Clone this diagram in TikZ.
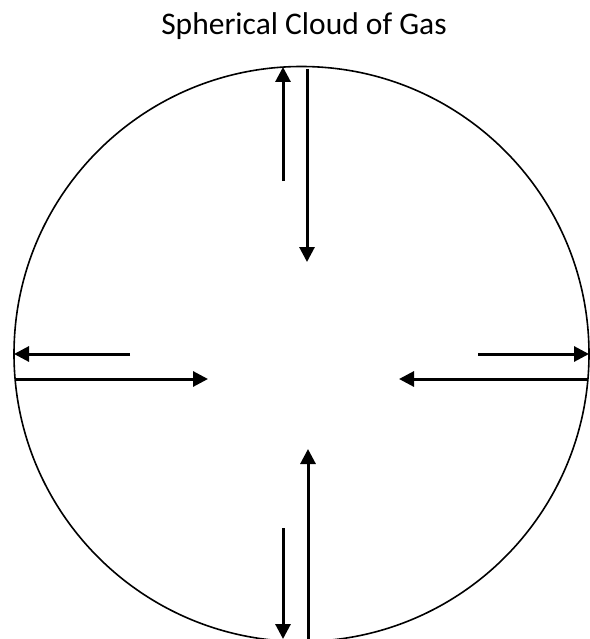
\documentclass[tikz,border=0pt]{standalone}
\usepackage{fontspec}
\setmainfont{Carlito}
\usepackage{tikz}
\usetikzlibrary{arrows.meta}

\tikzset{
  flow/.style={line width=3pt, -{Triangle[length=15pt,width=15pt]}},
  cloud/.style={line width=1.6pt}
}

\begin{document}
\begin{tikzpicture}[x=1pt, y=-1pt]
        \useasboundingbox (0,0) rectangle (589,639);

        % Titulo
        \node[font=\fontsize{31.5}{36}\selectfont, anchor=base] (title) at (304,35) {Spherical Cloud of Gas};

        % Nube
        \draw[cloud] (301.5,354) circle (287.5);

        % Flechas arriba
        \coordinate (tua) at (283,181);
        \coordinate (tub) at (283,67);
        \coordinate (tda) at (307,69);
        \coordinate (tdb) at (307,262);
        \draw[flow] (tua) -- (tub);
        \draw[flow] (tda) -- (tdb);

        % Flechas izquierda
        \coordinate (lla) at (130,354);
        \coordinate (llb) at (14,354);
        \coordinate (lra) at (16,379);
        \coordinate (lrb) at (208,379);
        \draw[flow] (lla) -- (llb);
        \draw[flow] (lra) -- (lrb);

        % Flechas derecha
        \coordinate (rra) at (478,354);
        \coordinate (rrb) at (589,354);
        \coordinate (rla) at (588,379);
        \coordinate (rlb) at (399,379);
        \draw[flow] (rra) -- (rrb);
        \draw[flow] (rla) -- (rlb);

        % Flechas abajo
        \coordinate (bua) at (308,639);
        \coordinate (bub) at (308,449);
        \coordinate (bda) at (283,528);
        \coordinate (bdb) at (283,639);
        \draw[flow] (bua) -- (bub);
        \draw[flow] (bda) -- (bdb);
    \end{tikzpicture}
\end{document}
